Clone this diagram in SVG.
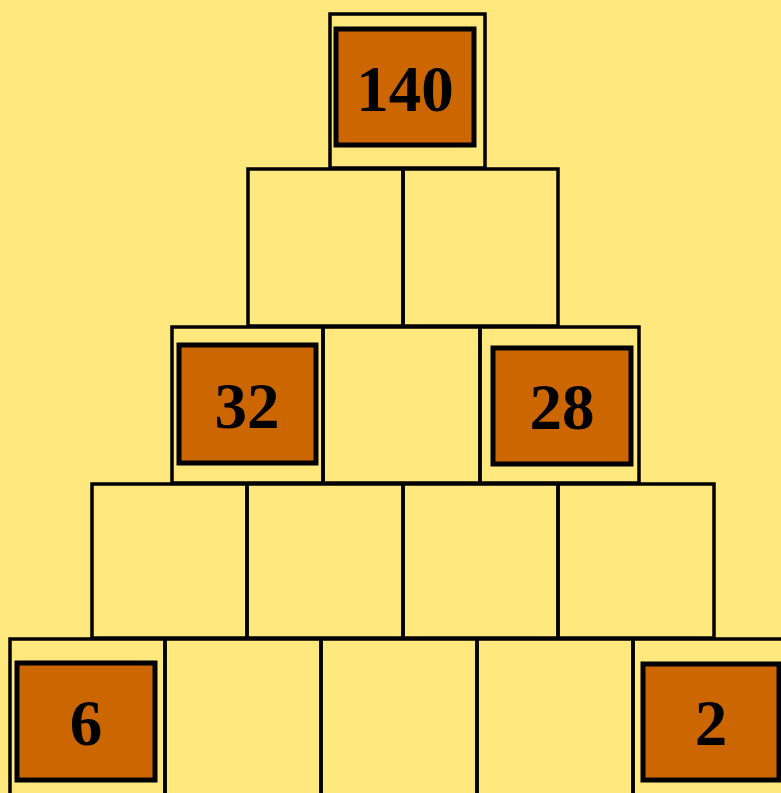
<svg xmlns="http://www.w3.org/2000/svg" width="781" height="793" viewBox="0 0 781 793">
<style>
.cell{fill:none;stroke:#000;stroke-width:3.5}
.box{fill:#CC6600;stroke:#000;stroke-width:5}
.num{font-family:"Liberation Serif","Times New Roman",serif;font-weight:bold;font-size:65px;fill:#000;text-anchor:middle}
</style>
<rect width="781" height="793" fill="#FFE97F"/>
<g id="grid">
<rect class="cell" x="330" y="14" width="155" height="154"/>
<rect class="cell" x="248" y="169" width="155" height="157"/>
<rect class="cell" x="403" y="169" width="155" height="157"/>
<rect class="cell" x="172" y="327" width="151" height="156"/>
<rect class="cell" x="323" y="327" width="157" height="156"/>
<rect class="cell" x="480" y="327" width="159" height="156"/>
<rect class="cell" x="92" y="484" width="155" height="154"/>
<rect class="cell" x="247" y="484" width="156" height="154"/>
<rect class="cell" x="403" y="484" width="155" height="154"/>
<rect class="cell" x="558" y="484" width="156" height="154"/>
<rect class="cell" x="10" y="639" width="155" height="160"/>
<rect class="cell" x="165" y="639" width="156" height="160"/>
<rect class="cell" x="321" y="639" width="156" height="160"/>
<rect class="cell" x="477" y="639" width="156" height="160"/>
<rect class="cell" x="633" y="639" width="160" height="160"/>
</g>
<g id="n140"><rect class="box" x="336" y="29" width="138" height="116"/><text class="num" x="405" y="111">140</text></g>
<g id="n32"><rect class="box" x="179" y="345" width="137" height="118"/><text class="num" x="247" y="428">32</text></g>
<g id="n28"><rect class="box" x="493" y="348" width="138" height="116"/><text class="num" x="562" y="429">28</text></g>
<g id="n6"><rect class="box" x="17" y="663" width="138" height="117"/><text class="num" x="86" y="745">6</text></g>
<g id="n2"><rect class="box" x="643" y="664" width="136" height="116"/><text class="num" x="711" y="745">2</text></g>
</svg>
